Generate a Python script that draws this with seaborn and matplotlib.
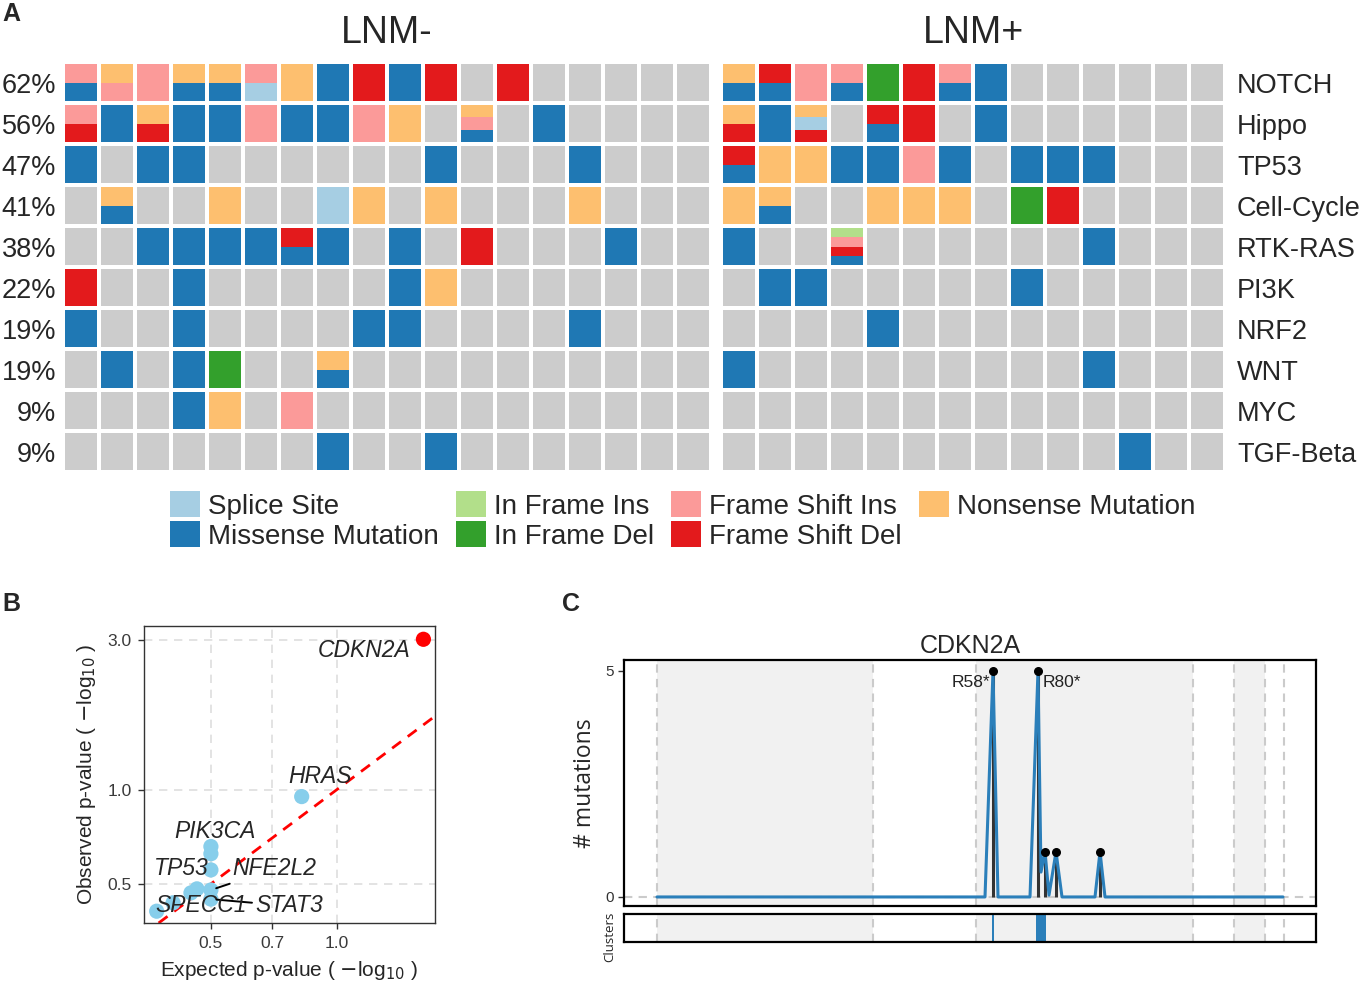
import matplotlib
matplotlib.use("Agg")
import matplotlib.pyplot as plt
import numpy as np
import pandas as pd
import seaborn as sns
from matplotlib.patches import Patch

# ---- Panel A: pathway oncoplot ----
pathways = ["NOTCH", "Hippo", "TP53", "Cell-Cycle", "RTK-RAS",
            "PI3K", "NRF2", "WNT", "MYC", "TGF-Beta"]

# one string per pathway, one token per sample, "/" stacks several hits (top first)
lnm_neg = [
    "FSI/MS NS/FSI FSI NS/MS NS/MS FSI/SS NS MS FSD MS FSD - FSD - - - - -",
    "FSI/FSD MS NS/FSD MS MS FSI MS MS FSI NS - NS/FSI/MS - MS - - - -",
    "MS - MS MS - - - - - - MS - - - MS - - -",
    "- NS/MS - - NS - - SS NS - NS - - - NS - - -",
    "- - MS MS MS MS FSD/MS MS - MS - FSD - - - MS - -",
    "FSD - - MS - - - - - MS NS - - - - - - -",
    "MS - - MS - - - - MS MS - - - - MS - - -",
    "- MS - MS IFD - - NS/MS - - - - - - - - - -",
    "- - - MS NS - FSI - - - - - - - - - - -",
    "- - - - - - - MS - - MS - - - - - - -",
]
lnm_pos = [
    "NS/MS FSD/MS FSI FSI/MS IFD FSD FSI/MS MS - - - - - -",
    "NS/FSD MS NS/SS/FSD - FSD/MS FSD - MS - - - - - -",
    "FSD/MS NS NS MS MS FSI MS - MS MS MS - - -",
    "NS NS/MS - - NS NS NS - IFD FSD - - - -",
    "MS - - IFI/FSI/FSD/MS - - - - - - MS - - -",
    "- MS MS - - - - - MS - - - - -",
    "- - - - MS - - - - - - - - -",
    "MS - - - - - - - - - MS - - -",
    "- - - - - - - - - - - - - -",
    "- - - - - - - - - - - MS - -",
]
mut_codes = ["SS", "MS", "IFI", "IFD", "FSI", "FSD", "NS"]
mut_labels = ["Splice Site", "Missense Mutation", "In Frame Ins", "In Frame Del",
              "Frame Shift Ins", "Frame Shift Del", "Nonsense Mutation"]

# ---- Panel B: QQ plot ----
qq_expected = [1.61, 0.824, 0.5, 0.5, 0.5, 0.5, 0.5, 0.463, 0.448, 0.406, 0.371]
qq_observed = [3.02, 0.95, 0.658, 0.624, 0.554, 0.478, 0.447, 0.482, 0.468, 0.435, 0.409]
qq_gene = ["CDKN2A", "HRAS", "PIK3CA", "", "TP53", "NFE2L2", "STAT3", "", "", "", "SPECC1"]

# ---- Panel C: CDKN2A clusters ----
peak_pos = [336, 381, 388, 399, 443]
peak_count = [5, 5, 1, 1, 1]
peak_label = ["R58*", "R80*", "", "", ""]
smooth_x = [0, 328, 336, 341, 373, 381, 384, 388, 392, 399, 405, 438, 443, 448, 626]
smooth_y = [0, 0, 5, 0, 0, 5, 0.55, 1, 0.04, 1, 0, 0, 1, 0, 0]
region_bounds = [0, 216, 319, 536, 577, 608, 627]
shaded_regions = [(0, 216), (319, 536), (577, 608)]
cluster_start = [334.8, 379]
cluster_end = [336.8, 389]

sns.set_theme(style="white")
plt.rcParams["font.family"] = ["Liberation Sans", "DejaVu Sans"]

paired = sns.color_palette("Paired")
mut_colors = dict(zip(mut_codes, paired[:7]))
GRAY = "#cccccc"
CELL_W, CELL_H = 32 / 36, 37 / 41

W, H = 1362, 985
fig = plt.figure(figsize=(W / 100, H / 100), dpi=100)


def px_axes(left, top, right, bottom):
    return fig.add_axes([left / W, 1 - bottom / H, (right - left) / W, (bottom - top) / H])


def draw_oncoplot(ax, rows):
    xs, bottoms, heights, colors = [], [], [], []
    for i, row in enumerate(rows):
        for j, cell in enumerate(row.split()):
            parts = ["-"] if cell == "-" else cell.split("/")
            h = CELL_H / len(parts)
            for k, p in enumerate(parts):
                xs.append(j)
                bottoms.append(i - CELL_H / 2 + k * h)
                heights.append(h)
                colors.append(GRAY if p == "-" else mut_colors[p])
    ax.bar(xs, heights, bottom=bottoms, width=CELL_W, color=colors, linewidth=0)
    ax.set_xlim(-0.5, len(rows[0].split()) - 0.5)
    ax.set_ylim(len(rows) - 0.5, -0.5)
    ax.set_axis_off()


ax_neg = px_axes(63, 62, 711, 472)
ax_pos = px_axes(721, 62, 1225, 472)
draw_oncoplot(ax_neg, lnm_neg)
draw_oncoplot(ax_pos, lnm_pos)

n_samples = len(lnm_neg[0].split()) + len(lnm_pos[0].split())
for i, name in enumerate(pathways):
    hits = sum(t != "-" for t in lnm_neg[i].split() + lnm_pos[i].split())
    ax_neg.text(-0.69, i + 0.08, f"{round(100 * hits / n_samples)}%", ha="right", va="center", fontsize=19.5)
    ax_pos.text(13.83, i + 0.08, name, ha="left", va="center", fontsize=19.5)

ax_neg.text(0.5, 1.07, "LNM-", transform=ax_neg.transAxes, ha="center", va="center", fontsize=27)
ax_pos.text(0.5, 1.07, "LNM+", transform=ax_pos.transAxes, ha="center", va="center", fontsize=27)

handles = [Patch(facecolor=mut_colors[c], edgecolor="none", label=l) for c, l in zip(mut_codes, mut_labels)]
fig.legend(handles=handles, ncol=4, loc="upper left", bbox_to_anchor=(170 / W, 1 - 491 / H),
           frameon=False, fontsize=20, handlelength=1.08, handleheight=1.08,
           handletextpad=0.3, columnspacing=0.6, labelspacing=0.05, borderpad=0, borderaxespad=0)

# ---- Panel B ----
axb = px_axes(144, 626, 435, 923)
qq = pd.DataFrame({"expected": qq_expected, "observed": qq_observed, "gene": qq_gene})
qq["sig"] = np.where(qq["gene"] == "CDKN2A", "sig", "ns")
axb.set_xscale("log")
axb.set_yscale("log")
axb.axline((0.5, 0.5), (1.0, 1.0), color="red", lw=2, ls=(0, (4, 3)), zorder=1)
sns.scatterplot(data=qq, x="expected", y="observed", hue="sig",
                palette={"sig": "#ff0000", "ns": "#87ceeb"}, s=120, edgecolor="none",
                legend=False, ax=axb, zorder=2)
axb.set_xlim(0.346, 1.716)
axb.set_ylim(0.375, 3.33)
axb.set_xticks([0.5, 0.7, 1.0])
axb.set_xticklabels(["0.5", "0.7", "1.0"])
axb.set_yticks([0.5, 1.0, 3.0])
axb.set_yticklabels(["0.5", "1.0", "3.0"])
axb.minorticks_off()
axb.grid(True, ls=(0, (5, 4)), color="#dedede", lw=1.2)
axb.tick_params(length=4, width=1, color="#333333", labelsize=12.5, labelcolor="#3a3a3a",
                bottom=True, left=True, pad=5)
for s in axb.spines.values():
    s.set_color("#333333")
    s.set_linewidth(1)
axb.set_xlabel("Expected p-value ( $-$log$_{10}$ )", fontsize=15, labelpad=6)
axb.set_ylabel("Observed p-value ( $-$log$_{10}$ )", fontsize=15, labelpad=7)

label_xy = {"CDKN2A": (1.16, 2.79), "HRAS": (0.91, 1.10), "PIK3CA": (0.511, 0.734),
            "TP53": (0.426, 0.558), "NFE2L2": (0.708, 0.558), "STAT3": (0.769, 0.425),
            "SPECC1": (0.475, 0.425)}
with_segment = {"NFE2L2", "STAT3"}
for _, r in qq[qq["gene"] != ""].iterrows():
    arrow = dict(arrowstyle="-", color="black", lw=1.4, shrinkA=0, shrinkB=4) if r["gene"] in with_segment else None
    axb.annotate(r["gene"], xy=(r["expected"], r["observed"]), xytext=label_xy[r["gene"]],
                 ha="center", va="center", fontsize=16.5, fontstyle="italic", arrowprops=arrow, zorder=3)

# ---- Panel C ----
BLUE = "#2b7fba"
axc = px_axes(624, 660, 1316, 906)
axcl = px_axes(624, 914, 1316, 942)
for ax in (axc, axcl):
    for a, b in shaded_regions:
        ax.axvspan(a, b, color="#f1f1f1", lw=0, zorder=0)
    for b in region_bounds:
        ax.axvline(b, color="#cbcbcb", lw=1.5, ls=(0, (4, 3)), zorder=1)
    ax.set_xlim(-33, 659)
    ax.set_xticks([])
    for s in ax.spines.values():
        s.set_color("black")
        s.set_linewidth(1.6)

axc.axhline(0, color="#cbcbcb", lw=1.5, ls=(0, (4, 3)), zorder=1)
axc.vlines(peak_pos, 0, peak_count, color="#333333", lw=2.2, zorder=2)
sns.lineplot(x=smooth_x, y=smooth_y, color=BLUE, lw=2.2, ax=axc, zorder=3)
axc.scatter(peak_pos, peak_count, s=30, color="black", zorder=4)
for x, y, t in zip(peak_pos, peak_count, peak_label):
    if t == "R58*":
        axc.text(x - 3, y - 0.25, t, ha="right", va="center", fontsize=12.5, color="#222222")
    elif t:
        axc.text(x + 5, y - 0.25, t, ha="left", va="center", fontsize=12.5, color="#222222")
axc.set_ylim(-0.2, 5.243)
axc.set_yticks([0, 5])
axc.tick_params(axis="y", length=4, width=1, color="#333333", labelsize=11, labelcolor="#333333", left=True, pad=3)
axc.set_ylabel("# mutations", fontsize=16.5, family=["Open Sans", "DejaVu Sans"], labelpad=6)
axc.set_title("CDKN2A", fontsize=18, pad=5)

for a, b in zip(cluster_start, cluster_end):
    axcl.axvspan(a, b, color=BLUE, lw=0, zorder=2)
axcl.set_yticks([])
axcl.set_ylabel("Clusters", fontsize=9.5, family=["Open Sans", "DejaVu Sans"])
axcl.yaxis.set_label_coords(-0.011, 0.2)

fig.text(2 / W, 1 - 14 / H, "A", fontsize=18, fontweight="bold", va="center", ha="left")
fig.text(2 / W, 1 - 604 / H, "B", fontsize=18, fontweight="bold", va="center", ha="left")
fig.text(562 / W, 1 - 604 / H, "C", fontsize=18, fontweight="bold", va="center", ha="left")

fig.savefig("out.png", dpi=100)
